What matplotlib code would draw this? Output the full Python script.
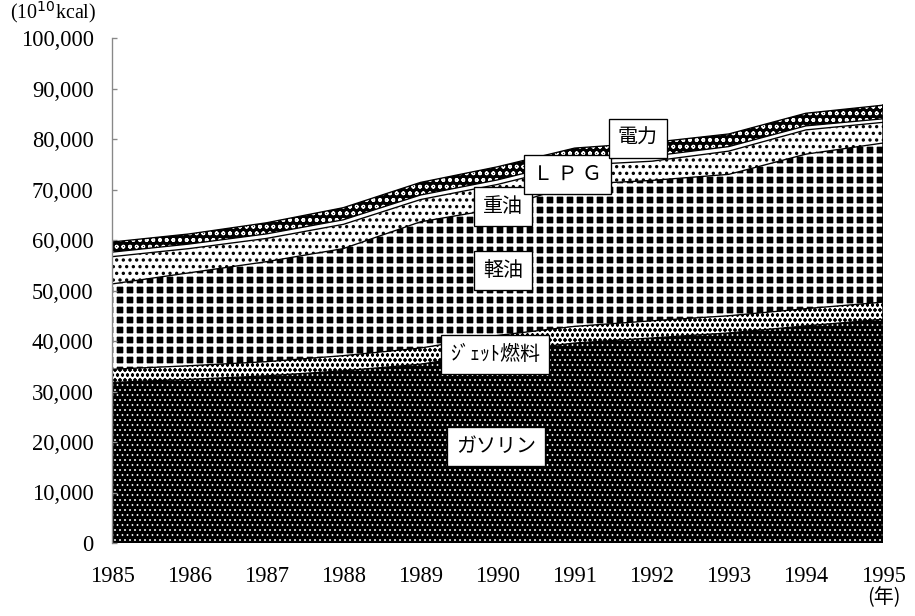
import matplotlib
matplotlib.use("Agg")
import matplotlib.pyplot as plt
import numpy as np

# ---- data (10^10 kcal) ----
years = [1985, 1986, 1987, 1988, 1989, 1990, 1991, 1992, 1993, 1994, 1995]
gasoline = [31800, 32400, 33100, 34100, 35400, 37800, 39600, 40600, 41600, 43000, 44300]
jet_fuel = [2600, 2700, 2800, 3000, 3200, 3300, 3300, 3400, 3400, 3400, 3400]
diesel = [16900, 18400, 19800, 21200, 25000, 25100, 28100, 27800, 28000, 30600, 31500]
heavy_oil = [5400, 4800, 4600, 4800, 4400, 4800, 3800, 3800, 4600, 4800, 4100]
lpg = [900, 900, 900, 900, 900, 900, 900, 1000, 900, 800, 700]
electricity = [2000, 2000, 2200, 2400, 2500, 2600, 2500, 2700, 2500, 2500, 2700]
series_names = ["ガソリン", "ｼﾞｪｯﾄ燃料", "軽油", "重油", "Ｌ Ｐ Ｇ", "電力"]
ytick_values = [0, 10000, 20000, 30000, 40000, 50000, 60000, 70000, 80000, 90000, 100000]

# ---- styling ----
DPI = 120
serif = ["Liberation Serif", "DejaVu Serif"]
jp = ["Noto Sans CJK JP", "DejaVu Sans"]

fig = plt.figure(figsize=(915 / DPI, 616 / DPI), dpi=DPI)
ax = fig.add_axes([112 / 915, 73 / 616, 771 / 915, 505 / 616])

layers = [gasoline, jet_fuel, diesel, heavy_oil, lpg, electricity]
styles = [
    (dict(facecolor="black", edgecolor="white", hatch="...."), 0.5),   # gasoline
    (dict(facecolor="white", edgecolor="black", hatch="oooo"), 0.7),   # jet
    (dict(facecolor="black", edgecolor="white", hatch="++"), 2.0),     # diesel
    (dict(facecolor="white", edgecolor="black", hatch="..."), 1.2),    # heavy oil
    (dict(facecolor="white", edgecolor="black", hatch=None), 1.0),     # lpg
    (dict(facecolor="black", edgecolor="white", hatch="ooo"), 0.7),    # electricity
]
x = np.array(years, dtype=float)
base = np.zeros(len(years))
for vals, (st, hlw) in zip(layers, styles):
    top = base + np.array(vals, dtype=float)
    with plt.rc_context({"hatch.linewidth": hlw}):
        coll = ax.fill_between(x, base, top, linewidth=0, **st)
    try:
        coll.set_hatch_linewidth(hlw)
    except AttributeError:
        pass
    ax.plot(x, top, color="black", lw=0.8)
    base = top
ax.plot([x[-1], x[-1]], [0, base[-1]], color="black", lw=1.5)

ax.set_xlim(1985, 1995)
ax.set_ylim(0, 100000)
for s in ["top", "right", "bottom"]:
    ax.spines[s].set_visible(False)
ax.spines["left"].set_color("#888888")
ax.spines["left"].set_linewidth(0.8)
ax.set_yticks(ytick_values)
ax.set_yticklabels([f"{v:,}" for v in ytick_values], fontfamily=serif, fontsize=13.5)
ax.tick_params(axis="y", direction="in", length=3, color="#888888", pad=11)
ax.set_xticks(years)
ax.set_xticklabels([str(y) for y in years], fontfamily=serif, fontsize=13.5)
ax.tick_params(axis="x", length=0, pad=14)

# unit labels
fig.text(10 / 915, 1 - 12 / 616, "(10$^{10}$kcal)", fontfamily=serif, fontsize=12,
         va="center", ha="left")
fig.text(884 / 915, 1 - 598 / 616, "(年)", fontfamily=jp,
         fontsize=12, va="center", ha="center")

# series labels in boxes
label_pos = [(1989.98, 19100), (1989.97, 37400), (1990.07, 53900),
             (1990.07, 66600), (1990.91, 73000), (1991.82, 80100)]
for name, (lx, ly) in zip(series_names, label_pos):
    ax.text(lx, ly, name, fontfamily=jp, fontsize=12, ha="center", va="center",
            bbox=dict(boxstyle="square,pad=0.45", facecolor="white",
                      edgecolor="black", linewidth=0.8), zorder=5)

fig.savefig("out.png", dpi=DPI)
